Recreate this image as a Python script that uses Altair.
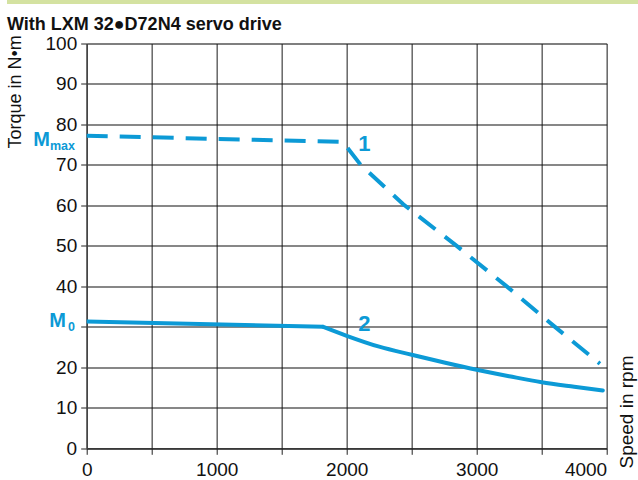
import altair as alt
import pandas as pd

# ---------------- data ----------------
title_text = "With LXM 32\u25cfD72N4 servo drive"

# curve 1 : peak torque (dashed)
rpm_peak = [0, 1970, 2108, 2435, 2846, 3231, 3602, 3948]
torque_peak = [77.2, 75.7, 70.0, 60.3, 50.0, 40.0, 30.0, 20.9]

# curve 2 : continuous torque (solid)
rpm_cont = [0, 1820, 2000, 2250, 2500, 2750, 3000, 3250, 3500, 3750, 3970]
torque_cont = [31.3, 30.0, 27.8, 25.1, 23.1, 21.2, 19.4, 17.8, 16.3, 15.2, 14.3]
cont_knee_rpm = 1820

x_ticks = [0, 500, 1000, 1500, 2000, 2500, 3000, 3500, 4000]
y_ticks = [0, 10, 20, 30, 40, 50, 60, 70, 80, 90, 100]

curve_labels = ["1", "2"]
curve_label_rpm = [2135, 2135]
curve_label_torque = [75.1, 30.6]

m_main = ["M", "M"]
m_sub = ["max", "0"]
m_torque = [74.7, 30.0]

# ---------------- styling ----------------
BLUE = "#0c9ad6"
FONT = "Liberation Sans"
W, H = 520, 404.8

peak_df = pd.DataFrame({"rpm": rpm_peak, "torque": torque_peak})
cont_df = pd.DataFrame({"rpm": rpm_cont, "torque": torque_cont})
lab_df = pd.DataFrame({"rpm": curve_label_rpm, "torque": curve_label_torque, "t": curve_labels})

x_enc = alt.X(
    "rpm:Q",
    scale=alt.Scale(domain=[0, 4000], nice=False, zero=False),
    axis=alt.Axis(
        values=x_ticks,
        labelExpr="datum.value % 1000 === 0 ? format(datum.value, 'd') : ''",
        labelFontSize=19,
        labelColor="#111",
        labelPadding=6,
        labelAlign={"condition": {"test": "datum.value === 4000", "value": "right"}, "value": "center"},
        labelOverlap=False,
        tickSize=6,
        tickColor="#222",
        domainColor="#222",
        domainWidth=1.2,
        gridColor="#666",
        gridWidth=1.5,
        title="Speed in rpm",
        titleFontSize=19,
        titleFontWeight="normal",
        titleColor="#111",
        titleAngle=270,
        titleAlign="left",
        titleBaseline="alphabetic",
        titleX=545.3,
        titleY=19.7,
    ),
)
y_enc = alt.Y(
    "torque:Q",
    scale=alt.Scale(domain=[0, 100], nice=False),
    axis=alt.Axis(
        values=y_ticks,
        labelExpr="datum.value === 30 ? '' : datum.label",
        labelFontSize=19,
        labelColor="#111",
        labelPadding=4,
        labelOverlap=False,
        tickSize=6,
        tickColor="#222",
        domainColor="#444",
        domainWidth=1.5,
        gridColor="#111",
        gridWidth=1.2,
        title="Torque in N\u2022m",
        titleFontSize=18,
        titleFontWeight="normal",
        titleColor="#111",
        titleAngle=270,
        titleAlign="left",
        titleBaseline="alphabetic",
        titleX=-65.8,
        titleY=104.5,
    ),
)

band = alt.Chart(pd.DataFrame({"a": [0]})).mark_rect(color="#d4e2a1").encode(
    x=alt.value(-79.7), x2=alt.value(551.3), y=alt.value(-43.5), y2=alt.value(-39.5)
)

cont_flat = (
    alt.Chart(cont_df)
    .transform_filter(f"datum.rpm <= {cont_knee_rpm}")
    .mark_line(color=BLUE, strokeWidth=4, clip=False, strokeCap="butt")
    .encode(x=x_enc, y=y_enc)
)
cont_curve = (
    alt.Chart(cont_df)
    .transform_filter(f"datum.rpm >= {cont_knee_rpm}")
    .mark_line(color=BLUE, strokeWidth=4, clip=False, interpolate="monotone", strokeCap="round")
    .encode(x="rpm:Q", y="torque:Q")
)
peak = alt.Chart(peak_df).mark_line(color=BLUE, strokeWidth=4, strokeDash=[21, 12], clip=False).encode(
    x="rpm:Q", y="torque:Q"
)

labels = alt.Chart(lab_df).mark_text(
    font=FONT, fontSize=22, fontWeight="bold", color=BLUE, align="center", baseline="middle"
).encode(x="rpm:Q", y="torque:Q", text="t:N")

m_layers = []
m_dx = [-36.7, -20.7]
for i in range(2):
    d = pd.DataFrame({"torque": [m_torque[i]], "t": [m_main[i]], "s": [m_sub[i]]})
    m_layers.append(
        alt.Chart(d).mark_text(
            font=FONT, fontSize=20, fontWeight="bold", color=BLUE, align="right",
            baseline="alphabetic", dx=m_dx[i]
        ).encode(x=alt.value(0), y="torque:Q", text="t:N")
    )
    m_layers.append(
        alt.Chart(d).mark_text(
            font=FONT, fontSize=12.5, fontWeight="bold", color=BLUE, align="right",
            baseline="alphabetic", dx=-11.7, dy=4
        ).encode(x=alt.value(0), y="torque:Q", text="s:N")
    )

chart = (
    alt.layer(band, cont_flat, cont_curve, peak, labels, *m_layers)
    .properties(
        width=W,
        height=H,
        autosize=alt.AutoSizeParams(type="none"),
        padding={"left": 86.7, "top": 43.5, "right": 31.3, "bottom": 31.7},
        title=alt.TitleParams(
            title_text, anchor="start", font=FONT, fontSize=18, fontWeight="bold",
            color="#111", baseline="alphabetic", offset=0, dy=47.6,
        ),
    )
    .configure_view(stroke=None)
    .configure(font=FONT, background="white")
)

chart.save("out.html", embed_options={"renderer": "svg", "actions": False})
